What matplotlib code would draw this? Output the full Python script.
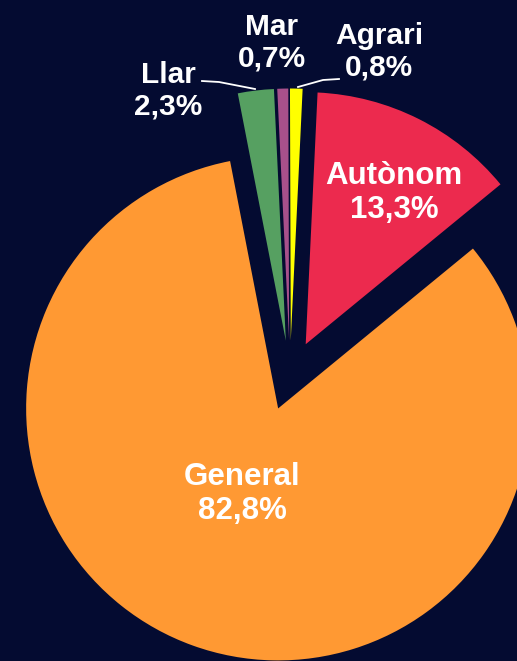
import matplotlib.pyplot as plt

# data
labels = ['Autònom', 'General', 'Llar', 'Mar', 'Agrari']
shares = [13.3, 82.8, 2.3, 0.7, 0.8]
colors = ['#EC2A4E', '#FF9933', '#56A061', '#A8508B', '#FFFF00']

# layout (pixel units, y measured from the top)
bg = '#040B31'
W, H = 517, 661
cx, cy = 290, 375.5
radius = 252
explode_px = 35
label_pos = [(394, 193), (242, 494), (168, 91), (272, 43), (379, 52)]
label_size = [22.5, 22.5, 21.5, 21.5, 21.5]
leaders = {
    'Llar': [(202, 81), (219, 82), (255, 89)],
    'Agrari': [(339, 79), (323, 80), (298, 87)],
}

fig = plt.figure(figsize=(W / 100, H / 100), dpi=100, facecolor=bg)
ax = fig.add_axes([0, 0, 1, 1])
ax.set_facecolor(bg)

ax.pie(shares, colors=colors, startangle=87.3, counterclock=False,
       radius=radius, center=(cx, H - cy),
       explode=[explode_px] * len(shares),
       wedgeprops=dict(linewidth=0))

for name, val, (tx, ty), fs in zip(labels, shares, label_pos, label_size):
    txt = name + '\n' + ('%.1f' % val).replace('.', ',') + '%'
    ax.text(tx, H - ty, txt, ha='center', va='center', color='white',
            fontsize=fs, fontweight='bold', family='Liberation Sans',
            linespacing=1.15)

for name, pts in leaders.items():
    ax.plot([p[0] for p in pts], [H - p[1] for p in pts], color='white', lw=1.3)

ax.set_xlim(0, W)
ax.set_ylim(0, H)
ax.set_aspect('equal')
ax.axis('off')

fig.savefig('out.png', dpi=100, facecolor=bg)
